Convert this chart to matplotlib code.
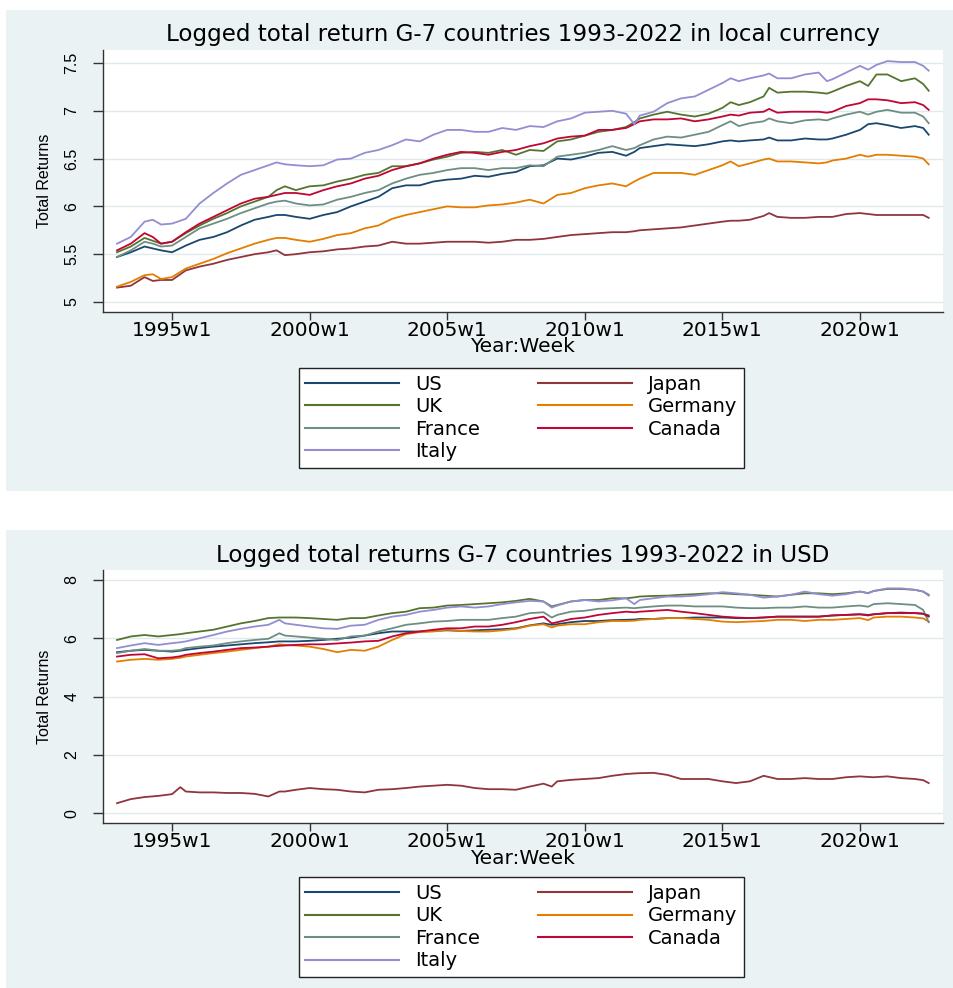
import matplotlib
matplotlib.use("Agg")
import matplotlib.pyplot as plt
from matplotlib.patches import Rectangle
from matplotlib.lines import Line2D

plt.rcParams['font.family'] = 'DejaVu Sans'

# ---- local currency panel (fractional year -> logged total return) ----
years_local = [
    1993.0, 1993.5, 1994.0, 1994.3, 1994.6, 1995.0, 1995.5, 1996.0, 1996.5, 1997.0,
    1997.5, 1998.0, 1998.5, 1998.8, 1999.1, 1999.5, 2000.0, 2000.5, 2001.0, 2001.5,
    2002.0, 2002.5, 2003.0, 2003.5, 2004.0, 2004.5, 2005.0, 2005.5, 2006.0, 2006.5,
    2007.0, 2007.5, 2008.0, 2008.5, 2009.0, 2009.5, 2010.0, 2010.5, 2011.0, 2011.5,
    2011.8, 2012.0, 2012.5, 2013.0, 2013.5, 2014.0, 2014.5, 2015.0, 2015.3, 2015.6,
    2016.0, 2016.5, 2016.7, 2017.0, 2017.5, 2018.0, 2018.5, 2018.8, 2019.0, 2019.5,
    2020.0, 2020.3, 2020.6, 2021.0, 2021.5, 2022.0, 2022.3, 2022.5,
]
us_local = [
    5.47, 5.52, 5.58, 5.56, 5.54, 5.52, 5.59, 5.65, 5.68, 5.73,
    5.80, 5.86, 5.89, 5.91, 5.91, 5.89, 5.87, 5.91, 5.94, 6.00,
    6.05, 6.10, 6.19, 6.22, 6.22, 6.26, 6.28, 6.29, 6.32, 6.31,
    6.34, 6.36, 6.42, 6.43, 6.50, 6.49, 6.52, 6.56, 6.57, 6.53,
    6.57, 6.61, 6.63, 6.65, 6.64, 6.63, 6.65, 6.68, 6.69, 6.68,
    6.69, 6.70, 6.72, 6.69, 6.69, 6.71, 6.70, 6.70, 6.71, 6.75,
    6.80, 6.86, 6.87, 6.85, 6.82, 6.84, 6.82, 6.75,
]
japan_local = [
    5.15, 5.17, 5.26, 5.22, 5.23, 5.23, 5.33, 5.37, 5.40, 5.44,
    5.47, 5.50, 5.52, 5.54, 5.49, 5.50, 5.52, 5.53, 5.55, 5.56,
    5.58, 5.59, 5.63, 5.61, 5.61, 5.62, 5.63, 5.63, 5.63, 5.62,
    5.63, 5.65, 5.65, 5.66, 5.68, 5.70, 5.71, 5.72, 5.73, 5.73,
    5.74, 5.75, 5.76, 5.77, 5.78, 5.80, 5.82, 5.84, 5.85, 5.85,
    5.86, 5.90, 5.93, 5.89, 5.88, 5.88, 5.89, 5.89, 5.89, 5.92,
    5.93, 5.92, 5.91, 5.91, 5.91, 5.91, 5.91, 5.88,
]
uk_local = [
    5.52, 5.58, 5.67, 5.64, 5.61, 5.63, 5.72, 5.80, 5.87, 5.93,
    6.00, 6.05, 6.10, 6.17, 6.21, 6.17, 6.21, 6.22, 6.26, 6.29,
    6.33, 6.35, 6.42, 6.42, 6.45, 6.49, 6.52, 6.56, 6.57, 6.56,
    6.59, 6.54, 6.59, 6.58, 6.68, 6.70, 6.74, 6.78, 6.80, 6.83,
    6.88, 6.92, 6.96, 6.99, 6.96, 6.94, 6.97, 7.03, 7.09, 7.06,
    7.09, 7.15, 7.24, 7.19, 7.20, 7.20, 7.19, 7.18, 7.20, 7.26,
    7.31, 7.26, 7.38, 7.38, 7.31, 7.34, 7.28, 7.21,
]
germany_local = [
    5.16, 5.21, 5.28, 5.29, 5.24, 5.26, 5.35, 5.40, 5.45, 5.51,
    5.56, 5.61, 5.65, 5.67, 5.67, 5.65, 5.63, 5.66, 5.70, 5.72,
    5.77, 5.80, 5.87, 5.91, 5.94, 5.97, 6.00, 5.99, 5.99, 6.01,
    6.02, 6.04, 6.07, 6.03, 6.12, 6.14, 6.19, 6.22, 6.24, 6.21,
    6.26, 6.29, 6.35, 6.35, 6.35, 6.33, 6.38, 6.43, 6.47, 6.42,
    6.45, 6.49, 6.50, 6.47, 6.47, 6.46, 6.45, 6.46, 6.48, 6.50,
    6.54, 6.52, 6.54, 6.54, 6.53, 6.52, 6.50, 6.44,
]
france_local = [
    5.47, 5.54, 5.63, 5.61, 5.58, 5.59, 5.68, 5.77, 5.82, 5.87,
    5.93, 5.98, 6.03, 6.05, 6.06, 6.03, 6.01, 6.02, 6.07, 6.10,
    6.14, 6.17, 6.24, 6.29, 6.33, 6.35, 6.38, 6.40, 6.40, 6.38,
    6.40, 6.40, 6.43, 6.42, 6.52, 6.54, 6.56, 6.59, 6.63, 6.59,
    6.61, 6.64, 6.70, 6.73, 6.72, 6.75, 6.78, 6.85, 6.89, 6.84,
    6.87, 6.89, 6.92, 6.89, 6.87, 6.90, 6.91, 6.90, 6.92, 6.96,
    6.99, 6.96, 6.99, 7.01, 6.98, 6.98, 6.94, 6.87,
]
canada_local = [
    5.54, 5.61, 5.72, 5.68, 5.61, 5.63, 5.73, 5.82, 5.89, 5.96,
    6.03, 6.08, 6.10, 6.12, 6.14, 6.14, 6.12, 6.17, 6.21, 6.24,
    6.29, 6.32, 6.38, 6.42, 6.45, 6.50, 6.54, 6.57, 6.56, 6.54,
    6.57, 6.59, 6.63, 6.66, 6.71, 6.73, 6.74, 6.80, 6.80, 6.82,
    6.86, 6.89, 6.91, 6.91, 6.92, 6.89, 6.91, 6.94, 6.96, 6.95,
    6.98, 6.99, 7.02, 6.98, 6.99, 6.99, 6.99, 6.98, 6.99, 7.05,
    7.08, 7.12, 7.12, 7.11, 7.08, 7.09, 7.06, 7.01,
]
italy_local = [
    5.61, 5.68, 5.84, 5.86, 5.81, 5.82, 5.87, 6.03, 6.14, 6.24,
    6.33, 6.38, 6.43, 6.46, 6.44, 6.43, 6.42, 6.43, 6.49, 6.50,
    6.56, 6.59, 6.64, 6.70, 6.68, 6.75, 6.80, 6.80, 6.78, 6.78,
    6.82, 6.80, 6.84, 6.83, 6.89, 6.92, 6.98, 6.99, 7.00, 6.97,
    6.86, 6.95, 6.99, 7.08, 7.13, 7.15, 7.22, 7.29, 7.34, 7.31,
    7.34, 7.37, 7.39, 7.34, 7.34, 7.38, 7.40, 7.31, 7.33, 7.40,
    7.47, 7.43, 7.48, 7.52, 7.51, 7.51, 7.47, 7.42,
]

# ---- USD panel ----
years_usd = [
    1993.0, 1993.5, 1994.0, 1994.5, 1995.0, 1995.3, 1995.5, 1996.0, 1996.5, 1997.0,
    1997.5, 1998.0, 1998.5, 1998.9, 1999.1, 1999.5, 2000.0, 2000.5, 2001.0, 2001.5,
    2002.0, 2002.5, 2003.0, 2003.5, 2004.0, 2004.5, 2005.0, 2005.5, 2006.0, 2006.5,
    2007.0, 2007.5, 2008.0, 2008.5, 2008.8, 2009.0, 2009.5, 2010.0, 2010.5, 2011.0,
    2011.5, 2011.8, 2012.0, 2012.5, 2013.0, 2013.5, 2014.0, 2014.5, 2015.0, 2015.5,
    2016.0, 2016.5, 2017.0, 2017.5, 2018.0, 2018.5, 2019.0, 2019.5, 2020.0, 2020.3,
    2020.5, 2021.0, 2021.5, 2022.0, 2022.3, 2022.5,
]
us_usd = [
    5.52, 5.57, 5.60, 5.57, 5.54, 5.57, 5.60, 5.66, 5.71, 5.75,
    5.79, 5.83, 5.86, 5.89, 5.89, 5.89, 5.91, 5.94, 5.98, 6.02,
    6.09, 6.17, 6.23, 6.23, 6.23, 6.25, 6.27, 6.25, 6.27, 6.29,
    6.31, 6.34, 6.44, 6.51, 6.46, 6.48, 6.55, 6.59, 6.59, 6.62,
    6.63, 6.64, 6.66, 6.66, 6.69, 6.69, 6.71, 6.71, 6.71, 6.69,
    6.69, 6.71, 6.74, 6.74, 6.74, 6.74, 6.78, 6.80, 6.82, 6.80,
    6.82, 6.86, 6.88, 6.86, 6.84, 6.78,
]
japan_usd = [
    0.34, 0.48, 0.55, 0.59, 0.65, 0.89, 0.74, 0.71, 0.71, 0.69,
    0.69, 0.66, 0.57, 0.74, 0.74, 0.80, 0.86, 0.82, 0.80, 0.74,
    0.71, 0.80, 0.82, 0.86, 0.91, 0.94, 0.97, 0.94, 0.86, 0.82,
    0.82, 0.80, 0.91, 1.01, 0.91, 1.09, 1.14, 1.17, 1.20, 1.28,
    1.34, 1.36, 1.37, 1.38, 1.31, 1.17, 1.17, 1.17, 1.09, 1.03,
    1.09, 1.28, 1.17, 1.17, 1.20, 1.17, 1.17, 1.23, 1.26, 1.24,
    1.23, 1.26, 1.20, 1.17, 1.13, 1.03,
]
uk_usd = [
    5.94, 6.06, 6.11, 6.06, 6.11, 6.14, 6.17, 6.23, 6.29, 6.40,
    6.51, 6.59, 6.69, 6.71, 6.71, 6.71, 6.69, 6.66, 6.63, 6.69,
    6.69, 6.78, 6.86, 6.91, 7.03, 7.05, 7.12, 7.14, 7.17, 7.20,
    7.23, 7.28, 7.35, 7.26, 7.09, 7.14, 7.26, 7.31, 7.31, 7.37,
    7.37, 7.40, 7.43, 7.45, 7.46, 7.49, 7.51, 7.54, 7.54, 7.51,
    7.49, 7.46, 7.43, 7.49, 7.54, 7.54, 7.51, 7.54, 7.60, 7.55,
    7.62, 7.69, 7.69, 7.66, 7.60, 7.49,
]
germany_usd = [
    5.20, 5.26, 5.29, 5.26, 5.29, 5.33, 5.37, 5.43, 5.49, 5.54,
    5.60, 5.66, 5.71, 5.79, 5.77, 5.75, 5.71, 5.63, 5.52, 5.60,
    5.57, 5.71, 5.94, 6.14, 6.21, 6.23, 6.29, 6.25, 6.23, 6.23,
    6.27, 6.32, 6.43, 6.48, 6.37, 6.43, 6.48, 6.48, 6.55, 6.59,
    6.59, 6.60, 6.63, 6.66, 6.69, 6.69, 6.66, 6.63, 6.57, 6.55,
    6.57, 6.59, 6.63, 6.63, 6.59, 6.63, 6.63, 6.66, 6.69, 6.62,
    6.71, 6.74, 6.74, 6.71, 6.68, 6.57,
]
france_usd = [
    5.49, 5.57, 5.63, 5.57, 5.57, 5.60, 5.66, 5.71, 5.75, 5.83,
    5.89, 5.94, 5.98, 6.17, 6.09, 6.06, 6.02, 5.98, 5.94, 6.06,
    6.09, 6.23, 6.34, 6.46, 6.51, 6.57, 6.59, 6.63, 6.63, 6.63,
    6.69, 6.74, 6.86, 6.89, 6.71, 6.80, 6.91, 6.94, 7.01, 7.03,
    7.05, 7.03, 7.05, 7.09, 7.12, 7.12, 7.09, 7.09, 7.09, 7.05,
    7.03, 7.03, 7.05, 7.05, 7.09, 7.05, 7.05, 7.09, 7.12, 7.08,
    7.17, 7.20, 7.17, 7.14, 6.97, 6.55,
]
canada_usd = [
    5.37, 5.43, 5.45, 5.31, 5.34, 5.38, 5.43, 5.49, 5.54, 5.60,
    5.66, 5.68, 5.71, 5.74, 5.75, 5.77, 5.79, 5.79, 5.82, 5.85,
    5.89, 5.91, 6.06, 6.17, 6.23, 6.29, 6.34, 6.34, 6.40, 6.40,
    6.46, 6.55, 6.66, 6.74, 6.51, 6.55, 6.66, 6.71, 6.80, 6.86,
    6.91, 6.89, 6.91, 6.94, 6.97, 6.91, 6.86, 6.80, 6.74, 6.71,
    6.69, 6.71, 6.74, 6.74, 6.74, 6.74, 6.78, 6.80, 6.82, 6.78,
    6.82, 6.86, 6.86, 6.86, 6.84, 6.74,
]
italy_usd = [
    5.66, 5.75, 5.83, 5.77, 5.83, 5.86, 5.89, 6.00, 6.11, 6.23,
    6.32, 6.40, 6.46, 6.63, 6.51, 6.46, 6.40, 6.34, 6.32, 6.43,
    6.46, 6.63, 6.74, 6.80, 6.91, 6.97, 7.05, 7.09, 7.05, 7.09,
    7.17, 7.23, 7.28, 7.26, 7.05, 7.12, 7.26, 7.31, 7.26, 7.30,
    7.37, 7.17, 7.31, 7.37, 7.43, 7.43, 7.46, 7.51, 7.58, 7.54,
    7.49, 7.39, 7.43, 7.49, 7.60, 7.51, 7.46, 7.51, 7.60, 7.54,
    7.62, 7.71, 7.71, 7.66, 7.60, 7.46,
]

countries = ["US", "Japan", "UK", "Germany", "France", "Canada", "Italy"]
colors = ["#1A476F", "#90353B", "#55752F", "#E37E00", "#6E8E84", "#C10534", "#938DD2"]
local_series = [us_local, japan_local, uk_local, germany_local, france_local, canada_local, italy_local]
usd_series = [us_usd, japan_usd, uk_usd, germany_usd, france_usd, canada_usd, italy_usd]

xtick_years = [1995, 2000, 2005, 2010, 2015, 2020]
xtick_labels = [f"{y}w1" for y in xtick_years]

W, H = 954, 988
BG = "#EAF2F3"
GRID = "#E0E9EC"

fig = plt.figure(figsize=(W / 100, H / 100), dpi=100)
fig.patch.set_facecolor("white")


def frac(x0, y0, x1, y1):
    # pixel box (top-left origin) -> figure fraction [left, bottom, width, height]
    return [x0 / W, 1 - y1 / H, (x1 - x0) / W, (y1 - y0) / H]


def panel(bg_box, ax_box, title, title_y, years, series, ylim, yticks, legend_top):
    l, b, w, h = frac(*bg_box)
    fig.patches.append(Rectangle((l, b), w, h, transform=fig.transFigure,
                                 facecolor=BG, edgecolor="none", zorder=-5))
    ax = fig.add_axes(frac(*ax_box))
    ax.set_facecolor("white")
    for name, col, vals in zip(countries, colors, series):
        ax.plot(years, vals, color=col, lw=1.3, label=name)

    ax.set_xlim(1992.49, 2023.02)
    ax.set_ylim(*ylim)
    ax.set_xticks(xtick_years)
    ax.set_xticklabels(xtick_labels)
    ax.set_yticks(yticks)
    ax.set_yticklabels([f"{t:g}" for t in yticks], rotation=90, va="center",
                       family="Liberation Sans", fontsize=11.5)
    ax.tick_params(axis="x", length=6, width=1, color="#333333", labelsize=14.5, pad=0.5)
    ax.tick_params(axis="y", length=7, width=1, color="#333333", pad=10)
    ax.yaxis.grid(True, color=GRID, lw=1)
    ax.set_axisbelow(True)
    for s in ("top", "right"):
        ax.spines[s].set_visible(False)
    for s in ("left", "bottom"):
        ax.spines[s].set_color("#333333")
        ax.spines[s].set_linewidth(1)

    ax_h = ax_box[3] - ax_box[1]
    ax.set_xlabel("Year:Week", fontsize=14.5, va="center")
    ax.xaxis.set_label_coords(0.5, -35 / ax_h)
    ax.set_ylabel("Total Returns", fontsize=11.5, family="Liberation Sans", va="center")
    ax.yaxis.set_label_coords((45 - ax_box[0]) / (ax_box[2] - ax_box[0]), 0.5)

    fig.text(523 / W, 1 - title_y / H, title, ha="center", va="center", fontsize=16.6)

    # legend rows: US, Japan / UK, Germany / France, Canada / Italy
    order = [0, 2, 4, 6, 1, 3, 5]
    handles = [Line2D([], [], color=colors[i], lw=1.5) for i in order]
    labels = [countries[i] for i in order]
    leg = fig.legend(handles, labels, loc="upper center",
                     bbox_to_anchor=(521.5 / W, 1 - legend_top / H), ncol=2,
                     fontsize=14, frameon=True, fancybox=False, framealpha=1,
                     edgecolor="#222222", handlelength=4.8, handletextpad=0.85,
                     columnspacing=3.0, labelspacing=0.18, borderpad=0.35,
                     borderaxespad=0)
    leg.get_frame().set_linewidth(1)
    return ax


panel((6, 10, 954, 491), (103, 50, 943, 312),
      "Logged total return G-7 countries 1993-2022 in local currency", 35,
      years_local, local_series, (4.895, 7.636), [5, 5.5, 6, 6.5, 7, 7.5], 368)
panel((6, 530, 954, 988), (103, 570, 943, 823),
      "Logged total returns G-7 countries 1993-2022 in USD", 555,
      years_usd, usd_series, (-0.34, 8.34), [0, 2, 4, 6, 8], 877)

fig.savefig("out.png", dpi=100, facecolor=fig.get_facecolor())
